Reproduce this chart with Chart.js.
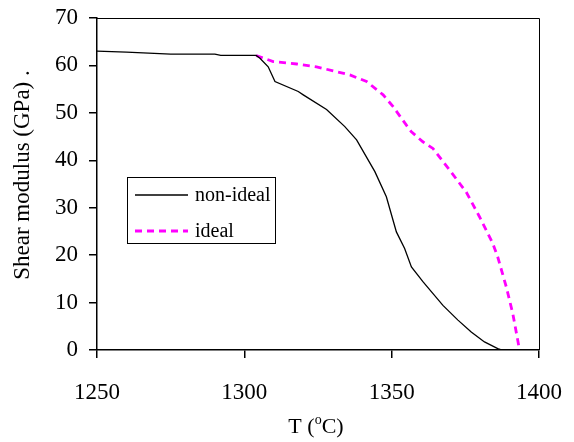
<!DOCTYPE html>
<html><head><meta charset="utf-8">
<script src="https://cdn.jsdelivr.net/npm/chart.js@4/dist/chart.umd.min.js"></script>
<style>html,body{margin:0;padding:0;background:#fff}#wrap{width:574px;height:442px}</style>
</head><body><div id="wrap"><canvas id="c" width="574" height="442"></canvas></div>
<script>
const nonIdealT = [1250,1260,1275,1290,1292,1304,1305.3,1308.1,1310.4,1318.3,1320,1327.9,1334.1,1338.1,1344.3,1348.2,1351.6,1354.4,1356.7,1360.6,1367.4,1372.5,1377,1381.5,1386,1387.5];
const nonIdealG = [63.0,62.8,62.4,62.4,62.1,62.1,61.5,59.7,56.6,54.5,53.8,50.7,47.1,44.3,37.6,32.3,24.9,21.4,17.5,14.4,9.4,6.3,3.8,1.7,0.3,0];
const idealT = [1304,1309.8,1317.8,1324.5,1335.8,1341.5,1347.1,1350.5,1355,1356.7,1360.6,1364,1369.7,1375.3,1379.8,1384.3,1386,1388.9,1391.1,1393.4];
const idealG = [62.1,60.8,60.3,59.7,58.0,56.6,53.8,51.3,47.4,46.0,43.9,42.5,37.9,33.3,28.1,22.5,19.6,13.3,7.7,0];
const xTicks = [1250,1300,1350,1400];
const yTicks = [0,10,20,30,40,50,60,70];
const seriesNames = ['non-ideal','ideal'];

const FONT = '"Liberation Serif","Times New Roman",serif';
const pts = (xs, ys) => xs.map((x,i)=>({x, y: ys[i]}));

const decor = {
  id: 'decor',
  afterDraw(chart) {
    const ctx = chart.ctx, a = chart.chartArea;
    ctx.save();
    ctx.strokeStyle = '#000';
    ctx.lineWidth = 1;
    ctx.beginPath();
    ctx.moveTo(a.left, a.top + 0.5); ctx.lineTo(a.right + 0.5, a.top + 0.5); ctx.lineTo(a.right + 0.5, a.bottom);
    ctx.stroke();
    // y title
    ctx.fillStyle = '#000';
    ctx.font = '23px ' + FONT;
    ctx.textAlign = 'center'; ctx.textBaseline = 'middle';
    ctx.save();
    ctx.translate(23, 175);
    ctx.rotate(-Math.PI / 2);
    ctx.fillText('Shear modulus (GPa) .', 0, 0);
    ctx.restore();
    // x title with superscript
    const base = 433;
    ctx.textBaseline = 'alphabetic'; ctx.textAlign = 'left';
    const p1 = 'T (', p3 = 'C)';
    ctx.font = '22px ' + FONT; const w1 = ctx.measureText(p1).width;
    ctx.font = '14px ' + FONT; const w2 = ctx.measureText('o').width;
    ctx.font = '22px ' + FONT; const w3 = ctx.measureText(p3).width;
    let x0 = 316 - (w1 + w2 + w3) / 2;
    ctx.fillText(p1, x0, base);
    ctx.font = '14px ' + FONT; ctx.fillText('o', x0 + w1, base - 9);
    ctx.font = '22px ' + FONT; ctx.fillText(p3, x0 + w1 + w2, base);
    // legend
    const lx = 127.5, ly = 177.5, lw = 148, lh = 66;
    ctx.fillStyle = '#fff'; ctx.fillRect(lx, ly, lw, lh);
    ctx.strokeStyle = '#000'; ctx.lineWidth = 1; ctx.strokeRect(lx, ly, lw, lh);
    const ds = chart.data.datasets;
    const rows = [195, 231];
    ds.forEach((d, i) => {
      ctx.beginPath();
      ctx.strokeStyle = d.borderColor; ctx.lineWidth = d.borderWidth;
      ctx.setLineDash(d.borderDash || []);
      ctx.moveTo(135, rows[i]); ctx.lineTo(188, rows[i]); ctx.stroke();
      ctx.setLineDash([]);
      ctx.fillStyle = '#000'; ctx.font = '20px ' + FONT;
      ctx.textBaseline = 'middle'; ctx.textAlign = 'left';
      ctx.fillText(d.label, 195, rows[i] + 1);
    });
    ctx.restore();
  }
};

new Chart(document.getElementById('c'), {
  type: 'line',
  data: {
    datasets: [
      { label: seriesNames[0], data: pts(nonIdealT, nonIdealG), borderColor: '#000', borderWidth: 1.3, pointRadius: 0, fill: false, tension: 0 },
      { label: seriesNames[1], data: pts(idealT, idealG), borderColor: '#FF00FF', borderWidth: 2.8, borderDash: [7,5], pointRadius: 0, fill: false, tension: 0 }
    ]
  },
  options: {
    responsive: false, animation: false,
    layout: { padding: { left: 0, top: 18, right: 35, bottom: 0 } },
    plugins: { legend: { display: false }, tooltip: { enabled: false } },
    scales: {
      x: {
        type: 'linear', min: 1250, max: 1400,
        afterFit(s) { s.height = 92; s.paddingLeft = 0; s.paddingRight = 0; },
        afterBuildTicks(s) { s.ticks = xTicks.map(v => ({ value: v })); },
        grid: { drawOnChartArea: false, drawTicks: true, tickLength: 8, color: '#000', lineWidth: 1.5 },
        border: { display: true, color: '#000', width: 1.5 },
        ticks: { color: '#000', font: { family: FONT, size: 23 }, padding: 21, maxRotation: 0, callback: v => String(v) }
      },
      y: {
        min: 0, max: 70,
        afterFit(s) { s.width = 97; s.paddingTop = 0; s.paddingBottom = 0; },
        afterBuildTicks(s) { s.ticks = yTicks.map(v => ({ value: v })); },
        grid: { drawOnChartArea: false, drawTicks: true, tickLength: 8, color: '#000', lineWidth: 1.5 },
        border: { display: true, color: '#000', width: 1.5 },
        ticks: { color: '#000', font: { family: FONT, size: 23 }, padding: 11, callback: v => String(v) }
      }
    }
  },
  plugins: [decor]
});
</script></body></html>
